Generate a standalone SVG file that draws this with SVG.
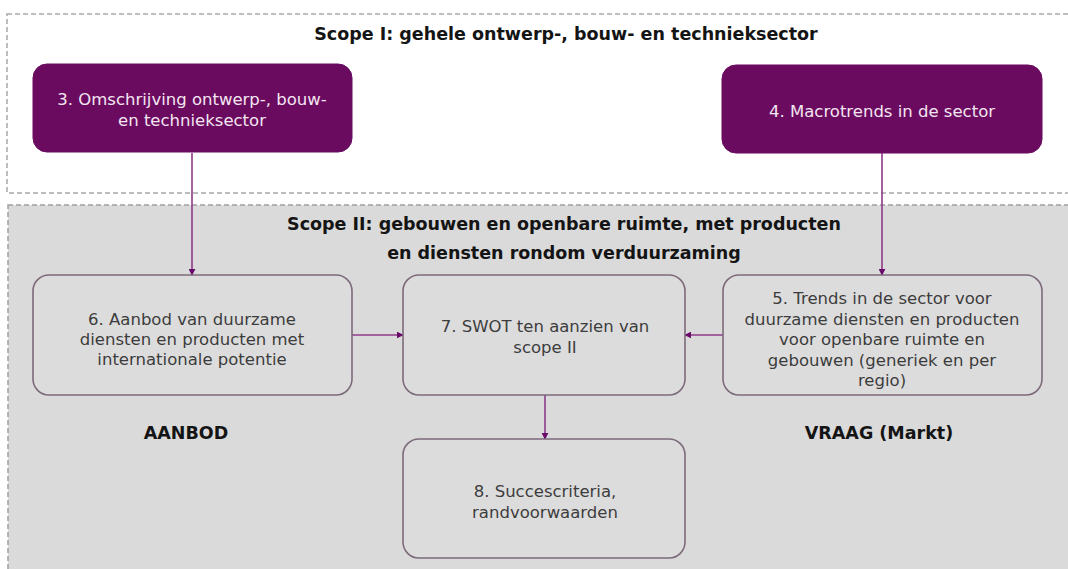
<svg xmlns="http://www.w3.org/2000/svg" width="1068" height="569" viewBox="0 0 1068 569">
  <defs>
    <style>
      .scope1 { fill: #ffffff; stroke: #a8a8a8; stroke-width: 1.5; stroke-dasharray: 5 3; }
      .scope2 { fill: #dadada; stroke: #a0a0a0; stroke-width: 1.5; stroke-dasharray: 5 3; }
      .dark { fill: #6b0b60; stroke: #6b0b60; stroke-width: 1; }
      .light { fill: #dcdcdc; stroke: #7c6a7a; stroke-width: 1.6; }
      .title { font-family: "DejaVu Sans", Verdana, sans-serif; font-weight: bold; font-size: 17.5px; fill: #141414; text-anchor: middle; }
      .wt { font-family: "DejaVu Sans", Verdana, sans-serif; font-size: 16.5px; fill: #f3e6f1; text-anchor: middle; }
      .gt { font-family: "DejaVu Sans", Verdana, sans-serif; font-size: 16.5px; fill: #3c3c3c; text-anchor: middle; }
      .conn { stroke: #8e3a8a; stroke-width: 1.6; fill: none; marker-end: url(#arr); }
    </style>
    <marker id="arr" viewBox="0 0 10 10" refX="9" refY="5" markerWidth="7" markerHeight="7" markerUnits="userSpaceOnUse" orient="auto">
      <path d="M0,0 L10,5 L0,10 z" fill="#6a0a6a"/>
    </marker>
  </defs>

  <g id="scope1">
    <rect class="scope1" x="7" y="14" width="1070" height="179"/>
    <text class="title" x="566" y="40">Scope I: gehele ontwerp-, bouw- en technieksector</text>
  </g>
  <g id="scope2">
    <rect class="scope2" x="8" y="205" width="1070" height="380"/>
    <text class="title" x="564" y="230">Scope II: gebouwen en openbare ruimte, met producten</text>
    <text class="title" x="564" y="259">en diensten rondom verduurzaming</text>
  </g>

  <g id="connectors">
    <line class="conn" x1="192" y1="153" x2="192" y2="275"/>
    <line class="conn" x1="882" y1="153" x2="882" y2="275"/>
    <line class="conn" x1="352" y1="335" x2="403" y2="335"/>
    <line class="conn" x1="723" y1="335" x2="685" y2="335"/>
    <line class="conn" x1="545" y1="395" x2="545" y2="439"/>
  </g>

  <g id="node3">
    <rect class="dark" x="33" y="64" width="319" height="88" rx="14"/>
    <text class="wt" x="192" y="105">3. Omschrijving ontwerp-, bouw-</text>
    <text class="wt" x="192" y="126">en technieksector</text>
  </g>
  <g id="node4">
    <rect class="dark" x="722" y="65" width="320" height="88" rx="14"/>
    <text class="wt" x="882" y="117">4. Macrotrends in de sector</text>
  </g>
  <g id="node6">
    <rect class="light" x="33" y="275" width="319" height="120" rx="16"/>
    <text class="gt" x="192" y="325">6. Aanbod van duurzame</text>
    <text class="gt" x="192" y="345">diensten en producten met</text>
    <text class="gt" x="192" y="365">internationale potentie</text>
  </g>
  <g id="node7">
    <rect class="light" x="403" y="275" width="282" height="120" rx="16"/>
    <text class="gt" x="545" y="332">7. SWOT ten aanzien van</text>
    <text class="gt" x="545" y="353">scope II</text>
  </g>
  <g id="node5">
    <rect class="light" x="723" y="275" width="319" height="120" rx="16"/>
    <text class="gt" x="882" y="304">5. Trends in de sector voor</text>
    <text class="gt" x="882" y="325">duurzame diensten en producten</text>
    <text class="gt" x="882" y="345">voor openbare ruimte en</text>
    <text class="gt" x="882" y="366">gebouwen (generiek en per</text>
    <text class="gt" x="882" y="386">regio)</text>
  </g>
  <g id="node8">
    <rect class="light" x="403" y="439" width="282" height="119" rx="16"/>
    <text class="gt" x="545" y="497">8. Succescriteria,</text>
    <text class="gt" x="545" y="518">randvoorwaarden</text>
  </g>
  <g id="label-aanbod">
    <text class="title" x="186" y="439">AANBOD</text>
  </g>
  <g id="label-vraag">
    <text class="title" x="879" y="439">VRAAG (Markt)</text>
  </g>
</svg>
